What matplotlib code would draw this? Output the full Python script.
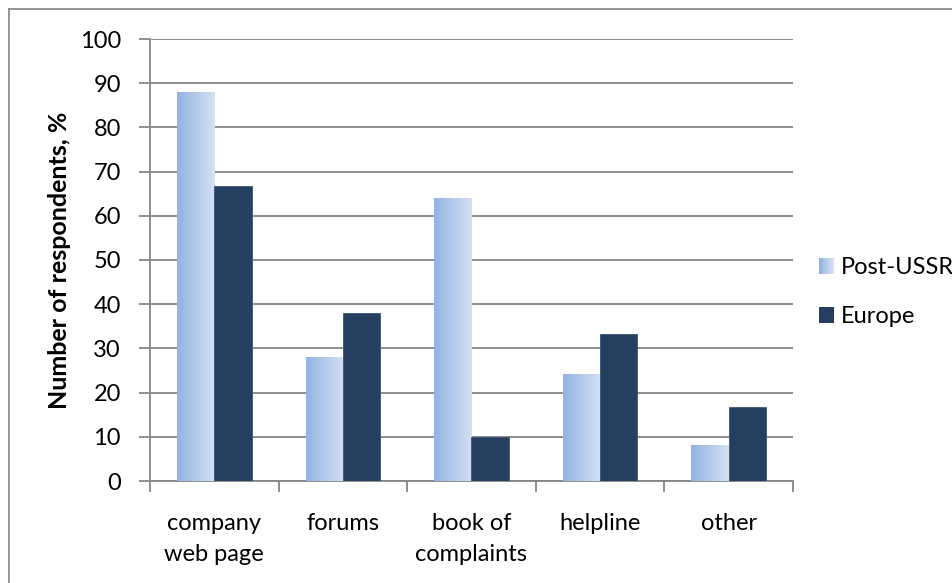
import matplotlib
matplotlib.use('Agg')
import matplotlib.pyplot as plt
import numpy as np
from matplotlib.patches import Rectangle, Patch
from matplotlib.lines import Line2D
from matplotlib.colors import LinearSegmentedColormap
from matplotlib.legend_handler import HandlerBase

# ========== 数据 ==========
categories = ['company\nweb page', 'forums', 'book of\ncomplaints', 'helpline', 'other']
post_ussr = [88, 28, 64, 24, 8]
europe = [66.7, 38, 10, 33.3, 16.7]
series_names = ['Post-USSR', 'Europe']
y_ticks = list(range(0, 101, 10))

# ========== 样式 ==========
plt.rcParams['font.family'] = ['Lato', 'DejaVu Sans']
grad_left = '#93B3E2'
grad_right = '#D5E0F3'
europe_color = '#243F60'
axis_color = '#868686'
grad_cmap = LinearSegmentedColormap.from_list('g', [grad_left, grad_right])
gradient = np.linspace(0, 1, 64).reshape(1, -1)
fs = 17

fig = plt.figure(figsize=(9.53, 5.83), dpi=100)
ax = fig.add_axes([150 / 953, 1 - 481 / 583, (793 - 150) / 953, (481 - 39) / 583])

x = np.arange(len(categories))
bw = 0.29

# Post-USSR: 渐变柱
for xi, v in zip(x, post_ussr):
    ax.imshow(gradient, extent=[xi - bw, xi, 0, v], aspect='auto', cmap=grad_cmap,
              interpolation='bilinear', zorder=3)
# Europe: 深蓝柱
ax.bar(x + bw / 2, europe, width=bw, color=europe_color, edgecolor='#3A5578',
       linewidth=0.6, zorder=3)

ax.set_xlim(-0.5, len(categories) - 0.5)
ax.set_ylim(0, 100)
ax.set_yticks(y_ticks)
ax.yaxis.grid(True, color=axis_color, linewidth=1.3, zorder=0)
ax.set_axisbelow(True)

ax.set_xticks(np.arange(-0.5, len(categories), 1.0))
ax.set_xticklabels([])
ax.set_xticks(x, minor=True)
ax.set_xticklabels(categories, minor=True, fontsize=fs, linespacing=1.6, va='top')
ax.tick_params(axis='x', which='minor', length=0, pad=23)
ax.tick_params(axis='x', which='major', length=8, width=1.3, color=axis_color, direction='out')
ax.tick_params(axis='y', length=8, width=1.3, color=axis_color, direction='out',
               labelsize=fs, pad=13)

for s in ['top', 'right']:
    ax.spines[s].set_visible(False)
for s in ['left', 'bottom']:
    ax.spines[s].set_color(axis_color)
    ax.spines[s].set_linewidth(1.3)

ax.set_ylabel('Number of respondents, %', fontsize=18, fontweight='bold', labelpad=6)


# 图例：渐变色块
class GradientHandler(HandlerBase):
    def create_artists(self, legend, orig_handle, xdescent, ydescent, width, height, fontsize, trans):
        n = 12
        arts = []
        for i in range(n):
            r = Rectangle((-xdescent + width * i / n, -ydescent), width / n + 0.1, height,
                          facecolor=grad_cmap(i / (n - 1)), edgecolor='none', transform=trans)
            arts.append(r)
        return arts


h1 = Patch(facecolor=grad_left)
h2 = Patch(facecolor=europe_color)
leg = fig.legend([h1, h2], series_names, loc='upper left', bbox_to_anchor=(819 / 953, 1 - 257 / 583),
                 frameon=False, fontsize=fs, handlelength=0.64, handleheight=0.64,
                 handletextpad=0.3, labelspacing=1.2, borderpad=0, borderaxespad=0,
                 handler_map={h1: GradientHandler()})

# 外框（左、上）
fig.add_artist(Line2D([9 / 953, 9 / 953], [0, 1 - 9 / 583], color='#8C8C8C', linewidth=1.3))
fig.add_artist(Line2D([9 / 953, 1], [1 - 9 / 583, 1 - 9 / 583], color='#8C8C8C', linewidth=1.3))

plt.savefig('out.png', dpi=100)
